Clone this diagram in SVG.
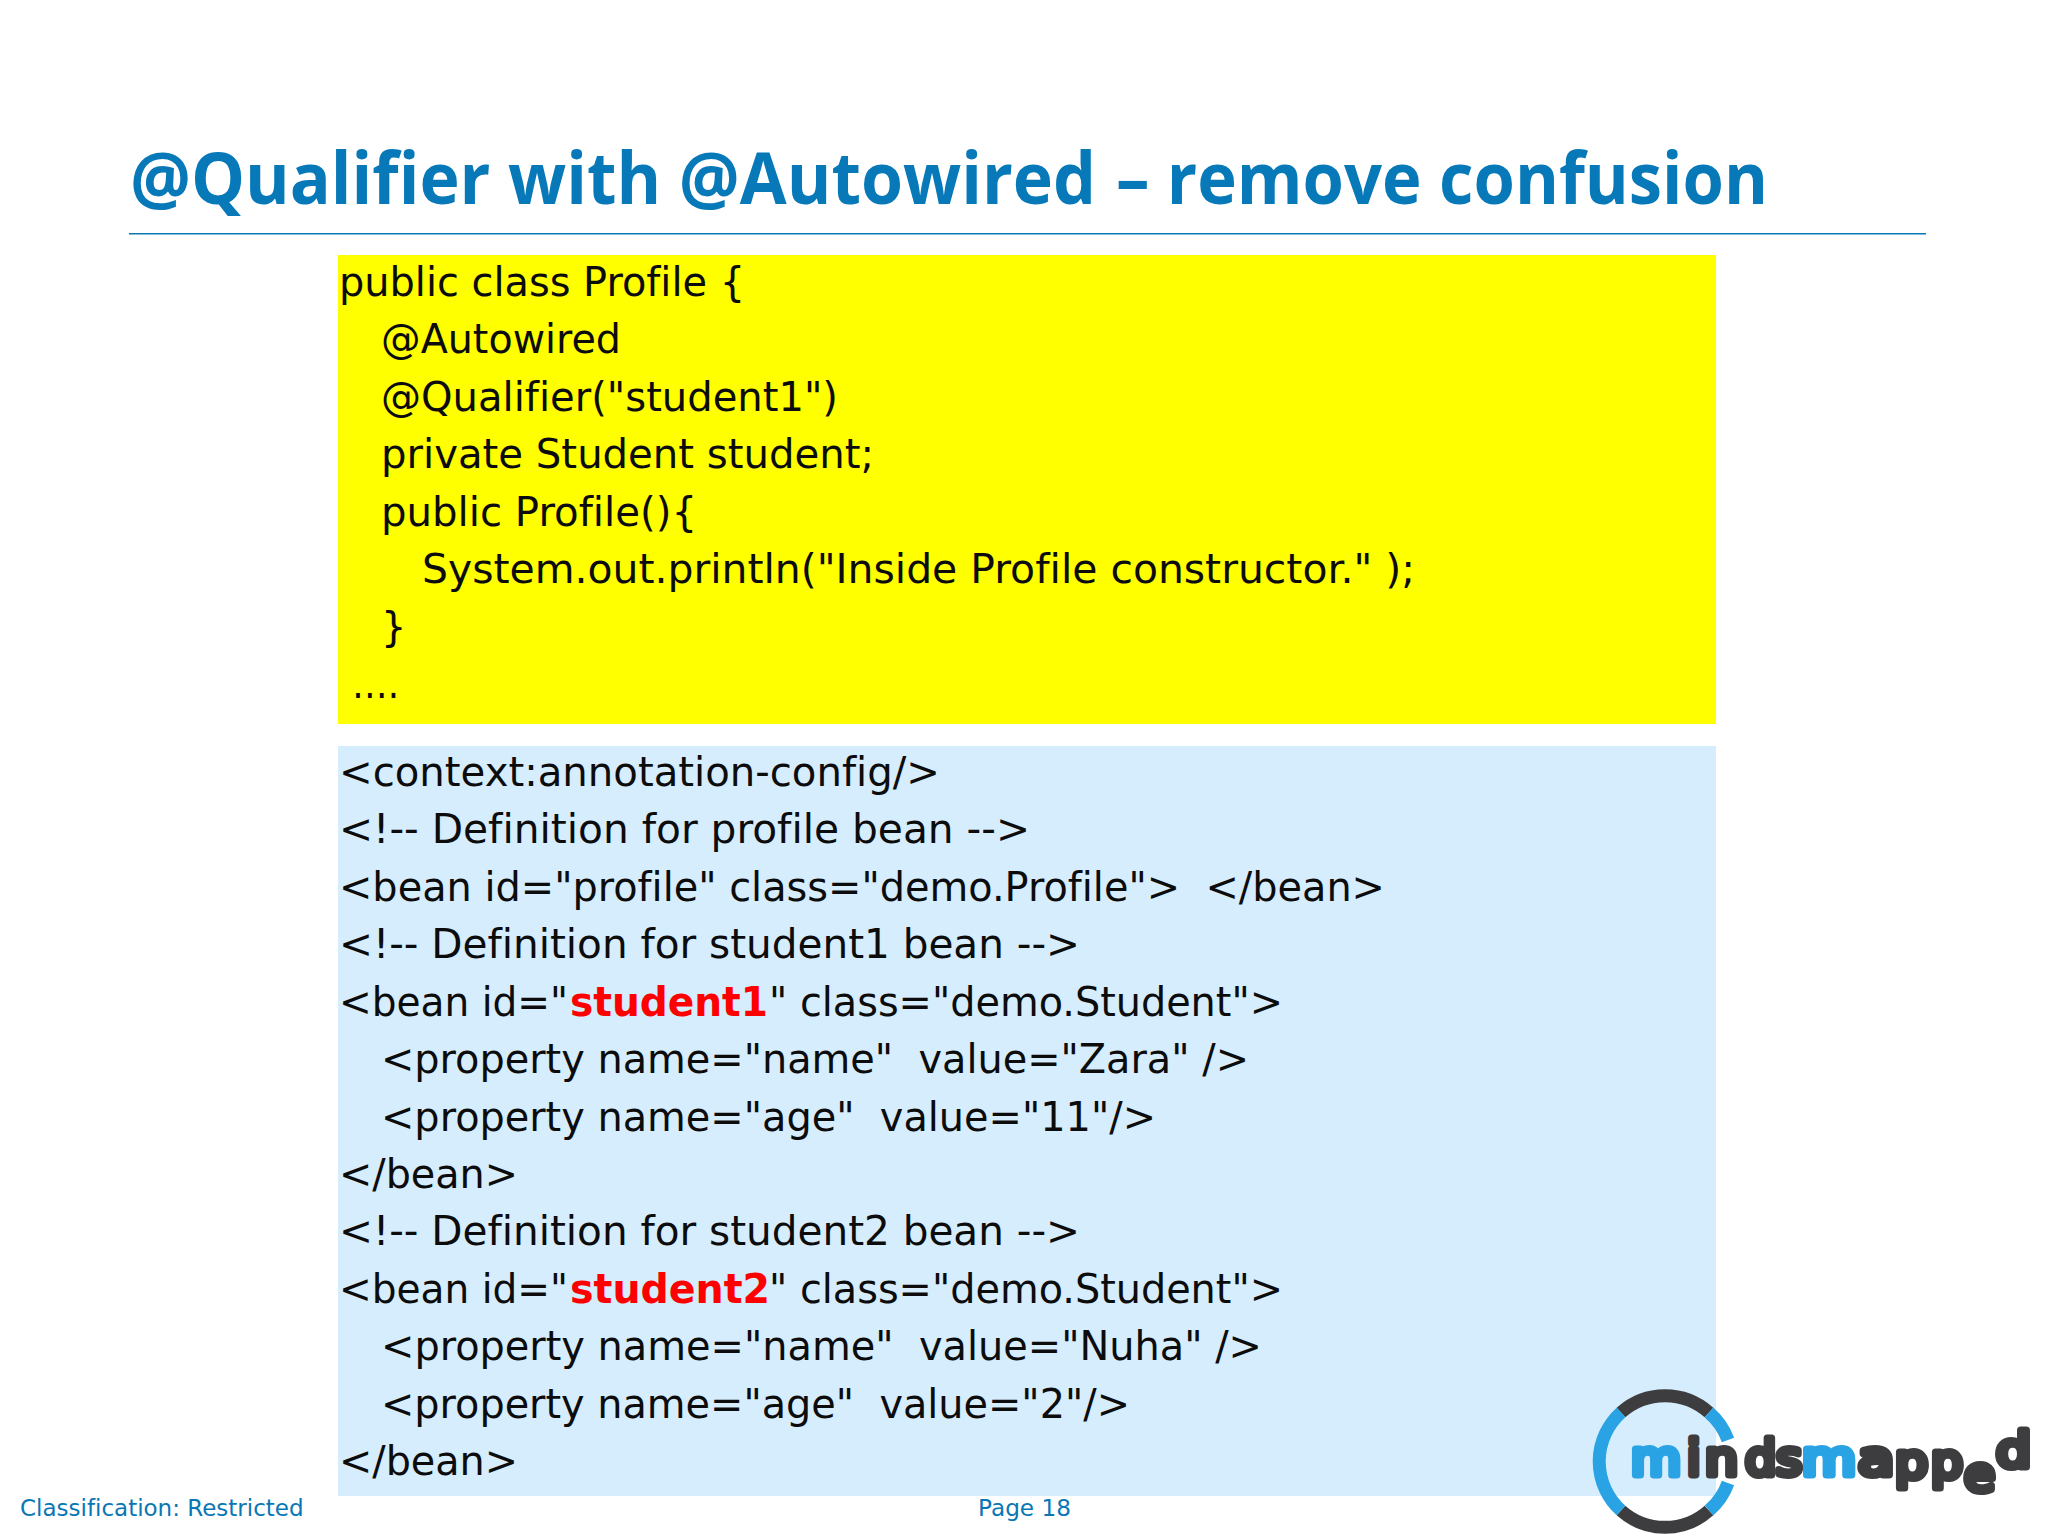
<svg xmlns="http://www.w3.org/2000/svg" width="2048" height="1536" viewBox="0 0 2048 1536">
<style>
text{font-variant-ligatures:none;white-space:pre}
.c{font-family:"DejaVu Sans",Verdana,sans-serif;font-size:40px;fill:#0c0c0c}
.r{fill:#f00;font-weight:bold}
.f{font-family:"DejaVu Sans",Verdana,sans-serif;font-size:23px;fill:#0a77b5}
.h{font-family:"Open Sans","Noto Sans",sans-serif;font-weight:700;font-size:72px;fill:#0779b9}
.ld{fill:none;stroke:#3d3d3f;stroke-width:13}
.lb{fill:none;stroke:#29a3e3;stroke-width:13}
.lt{font-family:"DejaVu Sans",sans-serif;font-size:48px;stroke-width:7;stroke-linejoin:round}
.tb{fill:#29a3e3;stroke:#29a3e3}
.td{fill:#3d3d3f;stroke:#3d3d3f}
</style>
<rect width="2048" height="1536" fill="#fff"/>
<g id="title">
<text class="h" x="130" y="204" textLength="966" lengthAdjust="spacingAndGlyphs">@Qualifier with @Autowired</text>
<text class="h" x="1116" y="204" textLength="652" lengthAdjust="spacingAndGlyphs">– remove confusion</text>
<rect x="129" y="233" width="1797" height="1.5" fill="#0a77b5"/>
</g>
<rect x="338" y="255" width="1378" height="469" fill="#ff0"/>
<rect x="338" y="746" width="1378" height="750" fill="#d6edfd"/>
<g class="c" transform="translate(0 0.6)">
<text x="339" y="295" textLength="406" lengthAdjust="spacingAndGlyphs">public class Profile {</text>
<text x="381" y="352" textLength="240" lengthAdjust="spacingAndGlyphs">@Autowired</text>
<text x="381" y="410" textLength="457" lengthAdjust="spacingAndGlyphs">@Qualifier("student1")</text>
<text x="381" y="467" textLength="493" lengthAdjust="spacingAndGlyphs">private Student student;</text>
<text x="381" y="525" textLength="316" lengthAdjust="spacingAndGlyphs">public Profile(){</text>
<text x="422" y="582" textLength="993" lengthAdjust="spacingAndGlyphs">System.out.println("Inside Profile constructor." );</text>
<text x="381" y="640">}</text>
<text x="352" y="697" textLength="47" lengthAdjust="spacingAndGlyphs">….</text>
<text x="339" y="785" textLength="601" lengthAdjust="spacingAndGlyphs">&lt;context:annotation-config/&gt;</text>
<text x="339" y="842" textLength="691" lengthAdjust="spacingAndGlyphs">&lt;!-- Definition for profile bean --&gt;</text>
<text x="339" y="900" textLength="1046" lengthAdjust="spacingAndGlyphs">&lt;bean id="profile" class="demo.Profile"&gt;  &lt;/bean&gt;</text>
<text x="339" y="957" textLength="741" lengthAdjust="spacingAndGlyphs">&lt;!-- Definition for student1 bean --&gt;</text>
<text x="339" y="1015" textLength="229" lengthAdjust="spacingAndGlyphs">&lt;bean id="</text><text class="r" x="570" y="1015" textLength="198" lengthAdjust="spacingAndGlyphs">student1</text><text x="769" y="1015" textLength="514" lengthAdjust="spacingAndGlyphs">" class="demo.Student"&gt;</text>
<text x="381" y="1072" textLength="868" lengthAdjust="spacingAndGlyphs">&lt;property name="name"  value="Zara" /&gt;</text>
<text x="381" y="1130" textLength="775" lengthAdjust="spacingAndGlyphs">&lt;property name="age"  value="11"/&gt;</text>
<text x="339" y="1187" textLength="179" lengthAdjust="spacingAndGlyphs">&lt;/bean&gt;</text>
<text x="339" y="1244" textLength="741" lengthAdjust="spacingAndGlyphs">&lt;!-- Definition for student2 bean --&gt;</text>
<text x="339" y="1302" textLength="229" lengthAdjust="spacingAndGlyphs">&lt;bean id="</text><text class="r" x="570" y="1302" textLength="200" lengthAdjust="spacingAndGlyphs">student2</text><text x="769" y="1302" textLength="514" lengthAdjust="spacingAndGlyphs">" class="demo.Student"&gt;</text>
<text x="381" y="1359" textLength="881" lengthAdjust="spacingAndGlyphs">&lt;property name="name"  value="Nuha" /&gt;</text>
<text x="381" y="1417" textLength="749" lengthAdjust="spacingAndGlyphs">&lt;property name="age"  value="2"/&gt;</text>
<text x="339" y="1474" textLength="179" lengthAdjust="spacingAndGlyphs">&lt;/bean&gt;</text>
</g>
<text class="f" x="20" y="1516">Classification: Restricted</text>
<text class="f" x="978" y="1516" textLength="93" lengthAdjust="spacingAndGlyphs">Page 18</text>
<g id="logo">
<path class="ld" d="M1621 1412.500A66 66 0 0 1 1709 1412.500"/>
<path class="ld" d="M1621 1510.500A66 66 0 0 0 1709 1510.500"/>
<path class="lb" d="M1621 1412.500A66 66 0 0 0 1621 1510.500"/>
<path class="lb" d="M1709 1412.500A66 66 0 0 1 1728 1440"/>
<path class="lb" d="M1709 1510.500A66 66 0 0 0 1728 1483"/>
<text class="lt tb" x="1631" y="1475" textLength="50" lengthAdjust="spacingAndGlyphs">m</text>
<text class="lt td" x="1687" y="1475">i</text>
<text class="lt td" x="1705" y="1475" textLength="33" lengthAdjust="spacingAndGlyphs">n</text>
<text class="lt td" x="1745" y="1475" textLength="31" lengthAdjust="spacingAndGlyphs">d</text>
<text class="lt td" x="1776" y="1475" textLength="26" lengthAdjust="spacingAndGlyphs">s</text>
<text class="lt tb" x="1802" y="1475" textLength="54" lengthAdjust="spacingAndGlyphs">m</text>
<text class="lt td" x="1858" y="1475" textLength="36" lengthAdjust="spacingAndGlyphs">a</text>
<text class="lt td" x="1895" y="1478" textLength="33" lengthAdjust="spacingAndGlyphs">p</text>
<text class="lt td" x="1931" y="1478" textLength="32" lengthAdjust="spacingAndGlyphs">p</text>
<text class="lt td" x="1964" y="1491" textLength="31" lengthAdjust="spacingAndGlyphs">e</text>
<text class="lt td" x="1996" y="1467" textLength="35" lengthAdjust="spacingAndGlyphs">d</text>
</g>
</svg>
